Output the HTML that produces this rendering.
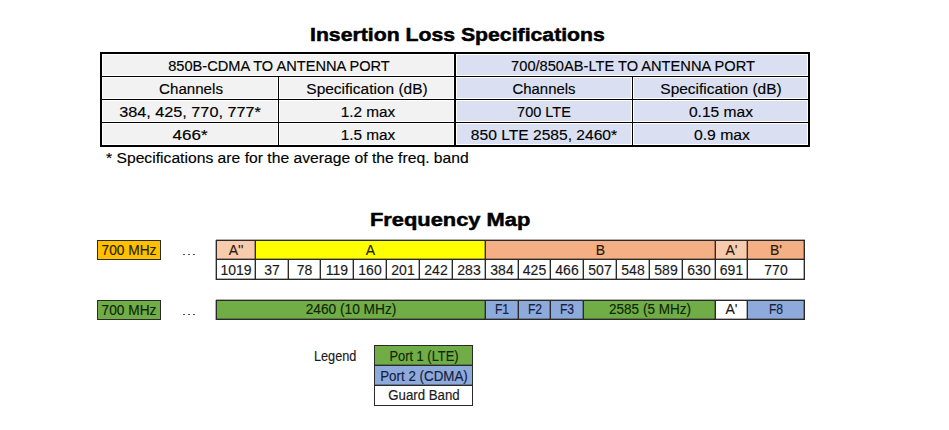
<!DOCTYPE html>
<html><head><meta charset="utf-8"><style>
html,body{margin:0;padding:0;background:#fff;}
body{width:949px;height:430px;position:relative;overflow:hidden;font-family:"Liberation Sans",sans-serif;color:#000;}
.r{position:absolute;}
.t{position:absolute;white-space:nowrap;line-height:30px;height:30px;}
.ti{-webkit-text-stroke:0.5px #000;}
.t:not(.ti){-webkit-text-stroke:0.15px currentColor;}
</style></head><body>
<div class="r" style="left:100px;top:52px;width:355px;height:95px;background:#fff;"></div>
<div class="r" style="left:455px;top:52px;width:355px;height:95px;background:#fff;"></div>
<div class="r" style="left:103px;top:55px;width:350px;height:20px;background:#f2f2f2;"></div>
<div class="r" style="left:457px;top:55px;width:350px;height:20px;background:#dae0f2;"></div>
<div class="r" style="left:103px;top:78px;width:174px;height:20px;background:#f2f2f2;"></div>
<div class="r" style="left:280px;top:78px;width:173px;height:20px;background:#f2f2f2;"></div>
<div class="r" style="left:457px;top:78px;width:174px;height:20px;background:#dae0f2;"></div>
<div class="r" style="left:634px;top:78px;width:173px;height:20px;background:#dae0f2;"></div>
<div class="r" style="left:103px;top:101px;width:174px;height:20px;background:#f2f2f2;"></div>
<div class="r" style="left:280px;top:101px;width:173px;height:20px;background:#f2f2f2;"></div>
<div class="r" style="left:457px;top:101px;width:174px;height:20px;background:#dae0f2;"></div>
<div class="r" style="left:634px;top:101px;width:173px;height:20px;background:#dae0f2;"></div>
<div class="r" style="left:103px;top:124px;width:174px;height:20px;background:#f2f2f2;"></div>
<div class="r" style="left:280px;top:124px;width:173px;height:20px;background:#f2f2f2;"></div>
<div class="r" style="left:457px;top:124px;width:174px;height:20px;background:#dae0f2;"></div>
<div class="r" style="left:634px;top:124px;width:173px;height:20px;background:#dae0f2;"></div>
<div class="r" style="left:100px;top:52px;width:710px;height:2px;background:#000;"></div>
<div class="r" style="left:100px;top:145px;width:710px;height:2px;background:#000;"></div>
<div class="r" style="left:100px;top:52px;width:2px;height:95px;background:#000;"></div>
<div class="r" style="left:808px;top:52px;width:2px;height:95px;background:#000;"></div>
<div class="r" style="left:454px;top:52px;width:2px;height:95px;background:#000;"></div>
<div class="r" style="left:100px;top:76px;width:710px;height:1px;background:#000;"></div>
<div class="r" style="left:100px;top:99px;width:710px;height:1px;background:#000;"></div>
<div class="r" style="left:100px;top:122px;width:710px;height:1px;background:#000;"></div>
<div class="r" style="left:278px;top:76px;width:1px;height:70px;background:#000;"></div>
<div class="r" style="left:632px;top:76px;width:1px;height:70px;background:#000;"></div>
<div class="t" style="left:78.90px;width:400px;text-align:center;transform-origin:50% 50%;top:50.63px;font-size:15.5px;transform:scaleX(0.9423);">850B-CDMA TO ANTENNA PORT</div>
<div class="t" style="left:432.50px;width:400px;text-align:center;transform-origin:50% 50%;top:50.63px;font-size:15.5px;transform:scaleX(0.9443);">700/850AB-LTE TO ANTENNA PORT</div>
<div class="t" style="left:-9.50px;width:400px;text-align:center;transform-origin:50% 50%;top:73.63px;font-size:15.5px;transform:scaleX(0.9757);">Channels</div>
<div class="t" style="left:167.00px;width:400px;text-align:center;transform-origin:50% 50%;top:73.63px;font-size:15.5px;transform:scaleX(0.9992);">Specification (dB)</div>
<div class="t" style="left:344.40px;width:400px;text-align:center;transform-origin:50% 50%;top:73.63px;font-size:15.5px;transform:scaleX(0.9610);">Channels</div>
<div class="t" style="left:521.10px;width:400px;text-align:center;transform-origin:50% 50%;top:73.63px;font-size:15.5px;transform:scaleX(0.9992);">Specification (dB)</div>
<div class="t" style="left:-10.10px;width:400px;text-align:center;transform-origin:50% 50%;top:96.63px;font-size:15.5px;transform:scaleX(1.0473);">384, 425, 770, 777*</div>
<div class="t" style="left:168.20px;width:400px;text-align:center;transform-origin:50% 50%;top:96.63px;font-size:15.5px;transform:scaleX(0.9905);">1.2 max</div>
<div class="t" style="left:344.20px;width:400px;text-align:center;transform-origin:50% 50%;top:96.63px;font-size:15.5px;transform:scaleX(0.9365);">700 LTE</div>
<div class="t" style="left:521.10px;width:400px;text-align:center;transform-origin:50% 50%;top:96.63px;font-size:15.5px;transform:scaleX(1.0061);">0.15 max</div>
<div class="t" style="left:-9.60px;width:400px;text-align:center;transform-origin:50% 50%;top:119.63px;font-size:15.5px;transform:scaleX(1.0983);">466*</div>
<div class="t" style="left:168.20px;width:400px;text-align:center;transform-origin:50% 50%;top:119.63px;font-size:15.5px;transform:scaleX(0.9905);">1.5 max</div>
<div class="t" style="left:344.20px;width:400px;text-align:center;transform-origin:50% 50%;top:119.63px;font-size:15.5px;transform:scaleX(1.0061);">850 LTE 2585, 2460*</div>
<div class="t" style="left:521.60px;width:400px;text-align:center;transform-origin:50% 50%;top:119.63px;font-size:15.5px;transform:scaleX(1.0159);">0.9 max</div>
<div class="t" style="left:106.00px;transform-origin:0 50%;top:143.13px;font-size:15.5px;transform:scaleX(1.0120);">* Specifications are for the average of the freq. band</div>
<div class="t ti" style="left:310.00px;transform-origin:0 50%;top:19.82px;font-size:19px;transform:scaleX(1.1170);font-weight:700;">Insertion Loss Specifications</div>
<div class="t ti" style="left:370.00px;transform-origin:0 50%;top:204.82px;font-size:19px;transform:scaleX(1.1500);font-weight:700;">Frequency Map</div>
<div class="r" style="left:97px;top:240px;width:64px;height:20px;background:#ffc000;box-shadow:inset 0 0 0 1px #2a2a2a;"></div>
<div class="r" style="left:97px;top:300px;width:64px;height:20px;background:#70ad47;box-shadow:inset 0 0 0 1px #2a2a2a;"></div>
<div class="t" style="left:-70.80px;width:400px;text-align:center;transform-origin:50% 50%;top:235.15px;font-size:14px;transform:scaleX(0.9800);color:#2a1f00;">700 MHz</div>
<div class="t" style="left:-70.80px;width:400px;text-align:center;transform-origin:50% 50%;top:294.65px;font-size:14px;transform:scaleX(0.9800);color:#0f2605;">700 MHz</div>
<div class="r" style="left:183px;top:254px;width:1.6px;height:1.1px;background:#505050;"></div>
<div class="r" style="left:188.3px;top:254px;width:1.6px;height:1.1px;background:#505050;"></div>
<div class="r" style="left:193.3px;top:254px;width:1.6px;height:1.1px;background:#505050;"></div>
<div class="r" style="left:183px;top:314px;width:1.6px;height:1.1px;background:#505050;"></div>
<div class="r" style="left:188.3px;top:314px;width:1.6px;height:1.1px;background:#505050;"></div>
<div class="r" style="left:193.3px;top:314px;width:1.6px;height:1.1px;background:#505050;"></div>
<div class="r" style="left:216px;top:240px;width:39px;height:20px;background:#f8cbad;"></div>
<div class="r" style="left:255px;top:240px;width:230px;height:20px;background:#ffff00;"></div>
<div class="r" style="left:485px;top:240px;width:230px;height:20px;background:#f4b084;"></div>
<div class="r" style="left:715px;top:240px;width:32px;height:20px;background:#f8cbad;"></div>
<div class="r" style="left:747px;top:240px;width:57px;height:20px;background:#f4b084;"></div>
<div class="r" style="left:216px;top:260px;width:588px;height:19px;background:#fff;"></div>
<div class="r" style="left:216px;top:300px;width:269px;height:20px;background:#70ad47;"></div>
<div class="r" style="left:485px;top:300px;width:33px;height:20px;background:#8eaadb;"></div>
<div class="r" style="left:518px;top:300px;width:32px;height:20px;background:#8eaadb;"></div>
<div class="r" style="left:550px;top:300px;width:33px;height:20px;background:#8eaadb;"></div>
<div class="r" style="left:583px;top:300px;width:132px;height:20px;background:#70ad47;"></div>
<div class="r" style="left:715px;top:300px;width:32px;height:20px;background:#fff;"></div>
<div class="r" style="left:747px;top:300px;width:57px;height:20px;background:#8eaadb;"></div>
<div class="r" style="left:216px;top:239px;width:589px;height:1px;background:rgba(30,30,30,0.35);"></div>
<div class="r" style="left:216px;top:240px;width:589px;height:1px;background:#2a2a2a;"></div>
<div class="r" style="left:216px;top:258px;width:589px;height:1px;background:rgba(30,30,30,0.35);"></div>
<div class="r" style="left:216px;top:259px;width:589px;height:1px;background:#2a2a2a;"></div>
<div class="r" style="left:216px;top:278px;width:589px;height:1px;background:rgba(30,30,30,0.35);"></div>
<div class="r" style="left:216px;top:279px;width:589px;height:1px;background:#2a2a2a;"></div>
<div class="r" style="left:215px;top:240px;width:1px;height:19px;background:rgba(30,30,30,0.35);"></div>
<div class="r" style="left:216px;top:240px;width:1px;height:19px;background:#2a2a2a;"></div>
<div class="r" style="left:254px;top:240px;width:1px;height:19px;background:rgba(30,30,30,0.35);"></div>
<div class="r" style="left:255px;top:240px;width:1px;height:19px;background:#2a2a2a;"></div>
<div class="r" style="left:484px;top:240px;width:1px;height:19px;background:rgba(30,30,30,0.35);"></div>
<div class="r" style="left:485px;top:240px;width:1px;height:19px;background:#2a2a2a;"></div>
<div class="r" style="left:714px;top:240px;width:1px;height:19px;background:rgba(30,30,30,0.35);"></div>
<div class="r" style="left:715px;top:240px;width:1px;height:19px;background:#2a2a2a;"></div>
<div class="r" style="left:746px;top:240px;width:1px;height:19px;background:rgba(30,30,30,0.35);"></div>
<div class="r" style="left:747px;top:240px;width:1px;height:19px;background:#2a2a2a;"></div>
<div class="r" style="left:803px;top:240px;width:1px;height:19px;background:rgba(30,30,30,0.35);"></div>
<div class="r" style="left:804px;top:240px;width:1px;height:19px;background:#2a2a2a;"></div>
<div class="r" style="left:215px;top:259px;width:1px;height:21px;background:rgba(30,30,30,0.35);"></div>
<div class="r" style="left:216px;top:259px;width:1px;height:21px;background:#2a2a2a;"></div>
<div class="r" style="left:254px;top:259px;width:1px;height:21px;background:rgba(30,30,30,0.35);"></div>
<div class="r" style="left:255px;top:259px;width:1px;height:21px;background:#2a2a2a;"></div>
<div class="r" style="left:287px;top:259px;width:1px;height:21px;background:rgba(30,30,30,0.35);"></div>
<div class="r" style="left:288px;top:259px;width:1px;height:21px;background:#2a2a2a;"></div>
<div class="r" style="left:319px;top:259px;width:1px;height:21px;background:rgba(30,30,30,0.35);"></div>
<div class="r" style="left:320px;top:259px;width:1px;height:21px;background:#2a2a2a;"></div>
<div class="r" style="left:352px;top:259px;width:1px;height:21px;background:rgba(30,30,30,0.35);"></div>
<div class="r" style="left:353px;top:259px;width:1px;height:21px;background:#2a2a2a;"></div>
<div class="r" style="left:385px;top:259px;width:1px;height:21px;background:rgba(30,30,30,0.35);"></div>
<div class="r" style="left:386px;top:259px;width:1px;height:21px;background:#2a2a2a;"></div>
<div class="r" style="left:418px;top:259px;width:1px;height:21px;background:rgba(30,30,30,0.35);"></div>
<div class="r" style="left:419px;top:259px;width:1px;height:21px;background:#2a2a2a;"></div>
<div class="r" style="left:451px;top:259px;width:1px;height:21px;background:rgba(30,30,30,0.35);"></div>
<div class="r" style="left:452px;top:259px;width:1px;height:21px;background:#2a2a2a;"></div>
<div class="r" style="left:484px;top:259px;width:1px;height:21px;background:rgba(30,30,30,0.35);"></div>
<div class="r" style="left:485px;top:259px;width:1px;height:21px;background:#2a2a2a;"></div>
<div class="r" style="left:517px;top:259px;width:1px;height:21px;background:rgba(30,30,30,0.35);"></div>
<div class="r" style="left:518px;top:259px;width:1px;height:21px;background:#2a2a2a;"></div>
<div class="r" style="left:549px;top:259px;width:1px;height:21px;background:rgba(30,30,30,0.35);"></div>
<div class="r" style="left:550px;top:259px;width:1px;height:21px;background:#2a2a2a;"></div>
<div class="r" style="left:582px;top:259px;width:1px;height:21px;background:rgba(30,30,30,0.35);"></div>
<div class="r" style="left:583px;top:259px;width:1px;height:21px;background:#2a2a2a;"></div>
<div class="r" style="left:615px;top:259px;width:1px;height:21px;background:rgba(30,30,30,0.35);"></div>
<div class="r" style="left:616px;top:259px;width:1px;height:21px;background:#2a2a2a;"></div>
<div class="r" style="left:648px;top:259px;width:1px;height:21px;background:rgba(30,30,30,0.35);"></div>
<div class="r" style="left:649px;top:259px;width:1px;height:21px;background:#2a2a2a;"></div>
<div class="r" style="left:681px;top:259px;width:1px;height:21px;background:rgba(30,30,30,0.35);"></div>
<div class="r" style="left:682px;top:259px;width:1px;height:21px;background:#2a2a2a;"></div>
<div class="r" style="left:714px;top:259px;width:1px;height:21px;background:rgba(30,30,30,0.35);"></div>
<div class="r" style="left:715px;top:259px;width:1px;height:21px;background:#2a2a2a;"></div>
<div class="r" style="left:746px;top:259px;width:1px;height:21px;background:rgba(30,30,30,0.35);"></div>
<div class="r" style="left:747px;top:259px;width:1px;height:21px;background:#2a2a2a;"></div>
<div class="r" style="left:803px;top:259px;width:1px;height:21px;background:rgba(30,30,30,0.35);"></div>
<div class="r" style="left:804px;top:259px;width:1px;height:21px;background:#2a2a2a;"></div>
<div class="r" style="left:216px;top:299px;width:589px;height:1px;background:rgba(30,30,30,0.35);"></div>
<div class="r" style="left:216px;top:300px;width:589px;height:1px;background:#2a2a2a;"></div>
<div class="r" style="left:216px;top:318px;width:589px;height:1px;background:rgba(30,30,30,0.35);"></div>
<div class="r" style="left:216px;top:319px;width:589px;height:1px;background:#2a2a2a;"></div>
<div class="r" style="left:215px;top:300px;width:1px;height:20px;background:rgba(30,30,30,0.35);"></div>
<div class="r" style="left:216px;top:300px;width:1px;height:20px;background:#2a2a2a;"></div>
<div class="r" style="left:484px;top:300px;width:1px;height:20px;background:rgba(30,30,30,0.35);"></div>
<div class="r" style="left:485px;top:300px;width:1px;height:20px;background:#2a2a2a;"></div>
<div class="r" style="left:517px;top:300px;width:1px;height:20px;background:rgba(30,30,30,0.35);"></div>
<div class="r" style="left:518px;top:300px;width:1px;height:20px;background:#2a2a2a;"></div>
<div class="r" style="left:549px;top:300px;width:1px;height:20px;background:rgba(30,30,30,0.35);"></div>
<div class="r" style="left:550px;top:300px;width:1px;height:20px;background:#2a2a2a;"></div>
<div class="r" style="left:582px;top:300px;width:1px;height:20px;background:rgba(30,30,30,0.35);"></div>
<div class="r" style="left:583px;top:300px;width:1px;height:20px;background:#2a2a2a;"></div>
<div class="r" style="left:714px;top:300px;width:1px;height:20px;background:rgba(30,30,30,0.35);"></div>
<div class="r" style="left:715px;top:300px;width:1px;height:20px;background:#2a2a2a;"></div>
<div class="r" style="left:746px;top:300px;width:1px;height:20px;background:rgba(30,30,30,0.35);"></div>
<div class="r" style="left:747px;top:300px;width:1px;height:20px;background:#2a2a2a;"></div>
<div class="r" style="left:803px;top:300px;width:1px;height:20px;background:rgba(30,30,30,0.35);"></div>
<div class="r" style="left:804px;top:300px;width:1px;height:20px;background:#2a2a2a;"></div>
<div class="t" style="left:36.00px;width:400px;text-align:center;transform-origin:50% 50%;top:235.15px;font-size:14px;color:#2b1a10;">A''</div>
<div class="t" style="left:170.50px;width:400px;text-align:center;transform-origin:50% 50%;top:235.15px;font-size:14px;color:#222200;">A</div>
<div class="t" style="left:400.50px;width:400px;text-align:center;transform-origin:50% 50%;top:235.15px;font-size:14px;color:#2b1808;">B</div>
<div class="t" style="left:531.50px;width:400px;text-align:center;transform-origin:50% 50%;top:235.15px;font-size:14px;color:#2b1a10;">A'</div>
<div class="t" style="left:576.00px;width:400px;text-align:center;transform-origin:50% 50%;top:235.15px;font-size:14px;color:#2b1808;">B'</div>
<div class="t" style="left:36.00px;width:400px;text-align:center;transform-origin:50% 50%;top:255.15px;font-size:14px;color:#1a1a1a;">1019</div>
<div class="t" style="left:72.00px;width:400px;text-align:center;transform-origin:50% 50%;top:255.15px;font-size:14px;color:#1a1a1a;">37</div>
<div class="t" style="left:104.50px;width:400px;text-align:center;transform-origin:50% 50%;top:255.15px;font-size:14px;color:#1a1a1a;">78</div>
<div class="t" style="left:137.00px;width:400px;text-align:center;transform-origin:50% 50%;top:255.15px;font-size:14px;color:#1a1a1a;">119</div>
<div class="t" style="left:170.00px;width:400px;text-align:center;transform-origin:50% 50%;top:255.15px;font-size:14px;color:#1a1a1a;">160</div>
<div class="t" style="left:203.00px;width:400px;text-align:center;transform-origin:50% 50%;top:255.15px;font-size:14px;color:#1a1a1a;">201</div>
<div class="t" style="left:236.00px;width:400px;text-align:center;transform-origin:50% 50%;top:255.15px;font-size:14px;color:#1a1a1a;">242</div>
<div class="t" style="left:269.00px;width:400px;text-align:center;transform-origin:50% 50%;top:255.15px;font-size:14px;color:#1a1a1a;">283</div>
<div class="t" style="left:302.00px;width:400px;text-align:center;transform-origin:50% 50%;top:255.15px;font-size:14px;color:#1a1a1a;">384</div>
<div class="t" style="left:334.50px;width:400px;text-align:center;transform-origin:50% 50%;top:255.15px;font-size:14px;color:#1a1a1a;">425</div>
<div class="t" style="left:367.00px;width:400px;text-align:center;transform-origin:50% 50%;top:255.15px;font-size:14px;color:#1a1a1a;">466</div>
<div class="t" style="left:400.00px;width:400px;text-align:center;transform-origin:50% 50%;top:255.15px;font-size:14px;color:#1a1a1a;">507</div>
<div class="t" style="left:433.00px;width:400px;text-align:center;transform-origin:50% 50%;top:255.15px;font-size:14px;color:#1a1a1a;">548</div>
<div class="t" style="left:466.00px;width:400px;text-align:center;transform-origin:50% 50%;top:255.15px;font-size:14px;color:#1a1a1a;">589</div>
<div class="t" style="left:499.00px;width:400px;text-align:center;transform-origin:50% 50%;top:255.15px;font-size:14px;color:#1a1a1a;">630</div>
<div class="t" style="left:531.50px;width:400px;text-align:center;transform-origin:50% 50%;top:255.15px;font-size:14px;color:#1a1a1a;">691</div>
<div class="t" style="left:576.00px;width:400px;text-align:center;transform-origin:50% 50%;top:255.15px;font-size:14px;color:#1a1a1a;">770</div>
<div class="t" style="left:151.00px;width:400px;text-align:center;transform-origin:50% 50%;top:294.35px;font-size:14px;transform:scaleX(0.9800);color:#0f2605;">2460 (10 MHz)</div>
<div class="t" style="left:302.00px;width:400px;text-align:center;transform-origin:50% 50%;top:294.35px;font-size:14px;transform:scaleX(0.8700);color:#142040;">F1</div>
<div class="t" style="left:334.50px;width:400px;text-align:center;transform-origin:50% 50%;top:294.35px;font-size:14px;transform:scaleX(0.8700);color:#142040;">F2</div>
<div class="t" style="left:367.00px;width:400px;text-align:center;transform-origin:50% 50%;top:294.35px;font-size:14px;transform:scaleX(0.8700);color:#142040;">F3</div>
<div class="t" style="left:450.00px;width:400px;text-align:center;transform-origin:50% 50%;top:294.35px;font-size:14px;transform:scaleX(0.9650);color:#0f2605;">2585 (5 MHz)</div>
<div class="t" style="left:531.50px;width:400px;text-align:center;transform-origin:50% 50%;top:294.35px;font-size:14px;color:#1a1a1a;">A'</div>
<div class="t" style="left:576.00px;width:400px;text-align:center;transform-origin:50% 50%;top:294.35px;font-size:14px;transform:scaleX(0.8700);color:#142040;">F8</div>
<div class="t" style="left:314.30px;transform-origin:0 50%;top:341.15px;font-size:14px;transform:scaleX(0.9070);color:#1a1a1a;">Legend</div>
<div class="r" style="left:374px;top:345px;width:99px;height:20px;background:#70ad47;"></div>
<div class="r" style="left:374px;top:365px;width:99px;height:20px;background:#8eaadb;"></div>
<div class="r" style="left:374px;top:385px;width:99px;height:20px;background:#fff;"></div>
<div class="r" style="left:374px;top:345px;width:99px;height:61px;background:transparent;box-shadow:inset 0 0 0 1px #2a2a2a;"></div>
<div class="r" style="left:374px;top:364px;width:99px;height:1px;background:rgba(30,30,30,0.35);"></div>
<div class="r" style="left:374px;top:365px;width:99px;height:1px;background:#2a2a2a;"></div>
<div class="r" style="left:374px;top:384px;width:99px;height:1px;background:rgba(30,30,30,0.35);"></div>
<div class="r" style="left:374px;top:385px;width:99px;height:1px;background:#2a2a2a;"></div>
<div class="t" style="left:224.00px;width:400px;text-align:center;transform-origin:50% 50%;top:341.15px;font-size:14px;transform:scaleX(0.9200);color:#0f2605;">Port 1 (LTE)</div>
<div class="t" style="left:224.00px;width:400px;text-align:center;transform-origin:50% 50%;top:361.15px;font-size:14px;transform:scaleX(0.9550);color:#142040;">Port 2 (CDMA)</div>
<div class="t" style="left:224.30px;width:400px;text-align:center;transform-origin:50% 50%;top:380.15px;font-size:14px;transform:scaleX(0.9460);color:#1a1a1a;">Guard Band</div>
</body></html>
